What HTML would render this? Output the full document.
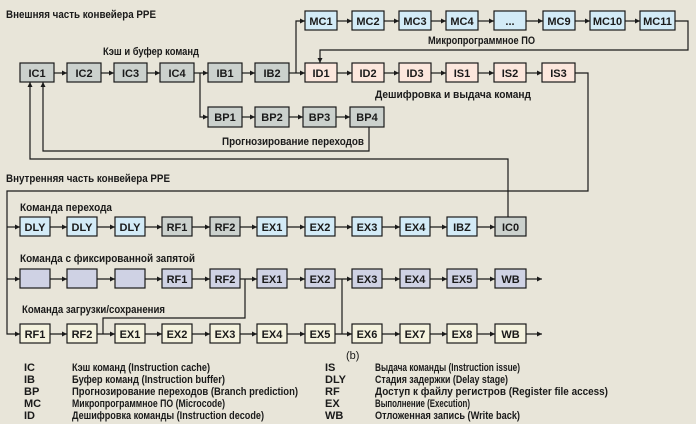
<!DOCTYPE html>
<html><head><meta charset="utf-8"><style>
html,body{margin:0;padding:0;background:#e8e5d9;}
svg{display:block;}
text{font-family:"Liberation Sans Narrow","Liberation Sans",sans-serif;fill:#1a1a1a;}
.b{font-weight:bold;font-size:11px;text-anchor:middle;}
.t{font-weight:bold;font-size:11px;}
.l{font-size:11px;font-weight:bold;}
rect{stroke:#1a1a1a;stroke-width:1.2;}
.ln{stroke:#1a1a1a;stroke-width:1.2;fill:none;}
.g{fill:#cbd1cd}.c{fill:#d3ebf7}.p{fill:#fce7dd}.v{fill:#cfd2e4}.y{fill:#f4f2de}
</style></head><body>
<svg width="696" height="424" viewBox="0 0 696 424" xmlns="http://www.w3.org/2000/svg">
<defs><marker id="a" markerWidth="6" markerHeight="6" refX="5" refY="3" orient="auto" markerUnits="userSpaceOnUse"><path d="M0,0.5 L5,3 L0,5.5 z" fill="#1a1a1a"/></marker></defs>

<text class="t" x="6" y="18" textLength="150" lengthAdjust="spacingAndGlyphs">Внешняя часть конвейера PPE</text>
<text class="t" x="103" y="55" textLength="96" lengthAdjust="spacingAndGlyphs">Кэш и буфер команд</text>
<text class="t" x="428" y="44" textLength="107" lengthAdjust="spacingAndGlyphs">Микропрограммное ПО</text>
<text class="t" x="375" y="98" textLength="156" lengthAdjust="spacingAndGlyphs">Дешифровка и выдача команд</text>
<text class="t" x="222" y="145" textLength="142" lengthAdjust="spacingAndGlyphs">Прогнозирование переходов</text>
<text class="t" x="6" y="182" textLength="164" lengthAdjust="spacingAndGlyphs">Внутренняя часть конвейера PPE</text>
<text class="t" x="20" y="211" textLength="92" lengthAdjust="spacingAndGlyphs">Команда перехода</text>
<text class="t" x="20" y="262" textLength="175" lengthAdjust="spacingAndGlyphs">Команда с фиксированной запятой</text>
<text class="t" x="22" y="313" textLength="143" lengthAdjust="spacingAndGlyphs">Команда загрузки/сохранения</text>
<text class="l" x="346" y="359" style="font-weight:normal">(b)</text>

<g class="ln">
<line x1="54" y1="73" x2="67" y2="73" marker-end="url(#a)"/>
<line x1="101" y1="73" x2="114" y2="73" marker-end="url(#a)"/>
<line x1="147" y1="73" x2="160" y2="73" marker-end="url(#a)"/>
<line x1="194" y1="73" x2="208" y2="73" marker-end="url(#a)"/>
<line x1="242" y1="73" x2="255" y2="73" marker-end="url(#a)"/>
<line x1="289" y1="73" x2="305" y2="73" marker-end="url(#a)"/>
<line x1="337" y1="73" x2="352" y2="73" marker-end="url(#a)"/>
<line x1="384" y1="73" x2="399" y2="73" marker-end="url(#a)"/>
<line x1="431" y1="73" x2="446" y2="73" marker-end="url(#a)"/>
<line x1="478" y1="73" x2="494" y2="73" marker-end="url(#a)"/>
<line x1="526" y1="73" x2="542" y2="73" marker-end="url(#a)"/>
<polyline points="200,73 200,117 208,117" marker-end="url(#a)"/>
<line x1="242" y1="117" x2="255" y2="117" marker-end="url(#a)"/>
<line x1="289" y1="117" x2="303" y2="117" marker-end="url(#a)"/>
<line x1="336" y1="117" x2="350" y2="117" marker-end="url(#a)"/>
<polyline points="296,73 296,21 305,21" marker-end="url(#a)"/>
<line x1="337" y1="21" x2="352" y2="21" marker-end="url(#a)"/>
<line x1="384" y1="21" x2="399" y2="21" marker-end="url(#a)"/>
<line x1="431" y1="21" x2="446" y2="21" marker-end="url(#a)"/>
<line x1="478" y1="21" x2="494" y2="21" marker-end="url(#a)"/>
<line x1="526" y1="21" x2="543" y2="21" marker-end="url(#a)"/>
<line x1="575" y1="21" x2="590" y2="21" marker-end="url(#a)"/>
<line x1="625" y1="21" x2="640" y2="21" marker-end="url(#a)"/>
<polyline points="675,21 688,21 688,50 320,50 320,63" marker-end="url(#a)"/>
<polyline points="575,73 588,73 588,191 7,191 7,334 20,334" marker-end="url(#a)"/>
<polyline points="7,227 20,227" marker-end="url(#a)"/>
<polyline points="7,279 20,279" marker-end="url(#a)"/>
<polyline points="369,127 369,151 43,151 43,82" marker-end="url(#a)"/>
<polyline points="508,217 508,159 30,159 30,82" marker-end="url(#a)"/>
<g id="r1">
<line x1="50" y1="227" x2="67" y2="227" marker-end="url(#a)"/>
<line x1="97" y1="227" x2="115" y2="227" marker-end="url(#a)"/>
<line x1="145" y1="227" x2="162" y2="227" marker-end="url(#a)"/>
<line x1="192" y1="227" x2="210" y2="227" marker-end="url(#a)"/>
<line x1="240" y1="227" x2="257" y2="227" marker-end="url(#a)"/>
<line x1="287" y1="227" x2="305" y2="227" marker-end="url(#a)"/>
<line x1="335" y1="227" x2="352" y2="227" marker-end="url(#a)"/>
<line x1="382" y1="227" x2="400" y2="227" marker-end="url(#a)"/>
<line x1="430" y1="227" x2="447" y2="227" marker-end="url(#a)"/>
<line x1="477" y1="227" x2="495" y2="227" marker-end="url(#a)"/>
</g>
<use href="#r1" y="52"/>
<use href="#r1" y="107"/>
<line x1="526" y1="279" x2="542" y2="279" marker-end="url(#a)"/>
<line x1="526" y1="334" x2="542" y2="334" marker-end="url(#a)"/>
<polyline points="245,279 245,318 103,318 103,334"/>
<line x1="342" y1="279" x2="342" y2="334"/>
</g>

<g>
<rect class="g" x="20" y="63" width="34" height="19"/><text class="b" x="37" y="77">IC1</text>
<rect class="g" x="67" y="63" width="34" height="19"/><text class="b" x="84" y="77">IC2</text>
<rect class="g" x="114" y="63" width="33" height="19"/><text class="b" x="130.5" y="77">IC3</text>
<rect class="g" x="160" y="63" width="34" height="19"/><text class="b" x="177" y="77">IC4</text>
<rect class="g" x="208" y="63" width="34" height="19"/><text class="b" x="225" y="77">IB1</text>
<rect class="g" x="255" y="63" width="34" height="19"/><text class="b" x="272" y="77">IB2</text>
<rect class="p" x="305" y="63" width="32" height="19"/><text class="b" x="321" y="77">ID1</text>
<rect class="p" x="352" y="63" width="32" height="19"/><text class="b" x="368" y="77">ID2</text>
<rect class="p" x="399" y="63" width="32" height="19"/><text class="b" x="415" y="77">ID3</text>
<rect class="p" x="446" y="63" width="32" height="19"/><text class="b" x="462" y="77">IS1</text>
<rect class="p" x="494" y="63" width="32" height="19"/><text class="b" x="510" y="77">IS2</text>
<rect class="p" x="542" y="63" width="33" height="19"/><text class="b" x="558.5" y="77">IS3</text>

<rect class="c" x="305" y="11" width="32" height="19"/><text class="b" x="321" y="25">MC1</text>
<rect class="c" x="352" y="11" width="32" height="19"/><text class="b" x="368" y="25">MC2</text>
<rect class="c" x="399" y="11" width="32" height="19"/><text class="b" x="415" y="25">MC3</text>
<rect class="c" x="446" y="11" width="32" height="19"/><text class="b" x="462" y="25">MC4</text>
<rect class="c" x="494" y="11" width="32" height="19"/><text class="b" x="510" y="25">...</text>
<rect class="c" x="543" y="11" width="32" height="19"/><text class="b" x="559" y="25">MC9</text>
<rect class="c" x="590" y="11" width="35" height="19"/><text class="b" x="607.5" y="25">MC10</text>
<rect class="c" x="640" y="11" width="35" height="19"/><text class="b" x="657.5" y="25">MC11</text>

<rect class="g" x="208" y="107" width="34" height="20"/><text class="b" x="225" y="121">BP1</text>
<rect class="g" x="255" y="107" width="34" height="20"/><text class="b" x="272" y="121">BP2</text>
<rect class="g" x="303" y="107" width="33" height="20"/><text class="b" x="319.5" y="121">BP3</text>
<rect class="g" x="350" y="107" width="34" height="20"/><text class="b" x="367" y="121">BP4</text>
</g>

<rect class="c" x="20" y="217" width="30" height="19"/><text class="b" x="35" y="231">DLY</text>
<rect class="c" x="67" y="217" width="30" height="19"/><text class="b" x="82" y="231">DLY</text>
<rect class="c" x="115" y="217" width="30" height="19"/><text class="b" x="130" y="231">DLY</text>
<rect class="g" x="162" y="217" width="30" height="19"/><text class="b" x="177" y="231">RF1</text>
<rect class="g" x="210" y="217" width="30" height="19"/><text class="b" x="225" y="231">RF2</text>
<rect class="c" x="257" y="217" width="30" height="19"/><text class="b" x="272" y="231">EX1</text>
<rect class="c" x="305" y="217" width="30" height="19"/><text class="b" x="320" y="231">EX2</text>
<rect class="c" x="352" y="217" width="30" height="19"/><text class="b" x="367" y="231">EX3</text>
<rect class="c" x="400" y="217" width="30" height="19"/><text class="b" x="415" y="231">EX4</text>
<rect class="c" x="447" y="217" width="30" height="19"/><text class="b" x="462" y="231">IBZ</text>
<rect class="g" x="495" y="217" width="31" height="19"/><text class="b" x="510.5" y="231">IC0</text>

<rect class="v" x="20" y="269" width="30" height="19"/>
<rect class="v" x="67" y="269" width="30" height="19"/>
<rect class="v" x="115" y="269" width="30" height="19"/>
<rect class="v" x="162" y="269" width="30" height="19"/><text class="b" x="177" y="283">RF1</text>
<rect class="v" x="210" y="269" width="30" height="19"/><text class="b" x="225" y="283">RF2</text>
<rect class="v" x="257" y="269" width="30" height="19"/><text class="b" x="272" y="283">EX1</text>
<rect class="v" x="305" y="269" width="30" height="19"/><text class="b" x="320" y="283">EX2</text>
<rect class="v" x="352" y="269" width="30" height="19"/><text class="b" x="367" y="283">EX3</text>
<rect class="v" x="400" y="269" width="30" height="19"/><text class="b" x="415" y="283">EX4</text>
<rect class="v" x="447" y="269" width="30" height="19"/><text class="b" x="462" y="283">EX5</text>
<rect class="v" x="495" y="269" width="31" height="19"/><text class="b" x="510.5" y="283">WB</text>

<rect class="y" x="20" y="324" width="30" height="19"/><text class="b" x="35" y="338">RF1</text>
<rect class="y" x="67" y="324" width="30" height="19"/><text class="b" x="82" y="338">RF2</text>
<rect class="y" x="115" y="324" width="30" height="19"/><text class="b" x="130" y="338">EX1</text>
<rect class="y" x="162" y="324" width="30" height="19"/><text class="b" x="177" y="338">EX2</text>
<rect class="y" x="210" y="324" width="30" height="19"/><text class="b" x="225" y="338">EX3</text>
<rect class="y" x="257" y="324" width="30" height="19"/><text class="b" x="272" y="338">EX4</text>
<rect class="y" x="305" y="324" width="30" height="19"/><text class="b" x="320" y="338">EX5</text>
<rect class="y" x="352" y="324" width="30" height="19"/><text class="b" x="367" y="338">EX6</text>
<rect class="y" x="400" y="324" width="30" height="19"/><text class="b" x="415" y="338">EX7</text>
<rect class="y" x="447" y="324" width="30" height="19"/><text class="b" x="462" y="338">EX8</text>
<rect class="y" x="495" y="324" width="31" height="19"/><text class="b" x="510.5" y="338">WB</text>

<g class="l">
<text x="24" y="371">IC</text><text x="72" y="371" textLength="138" lengthAdjust="spacingAndGlyphs">Кэш команд (Instruction cache)</text>
<text x="24" y="383">IB</text><text x="72" y="383" textLength="153" lengthAdjust="spacingAndGlyphs">Буфер команд (Instruction buffer)</text>
<text x="24" y="395">BP</text><text x="72" y="395" textLength="226" lengthAdjust="spacingAndGlyphs">Прогнозирование переходов (Branch prediction)</text>
<text x="24" y="407">MC</text><text x="72" y="407" textLength="153" lengthAdjust="spacingAndGlyphs">Микропрограммное ПО (Microcode)</text>
<text x="24" y="419">ID</text><text x="72" y="419" textLength="192" lengthAdjust="spacingAndGlyphs">Дешифровка команды (Instruction decode)</text>
<text x="325" y="371">IS</text><text x="375" y="371" textLength="145" lengthAdjust="spacingAndGlyphs">Выдача команды (Instruction issue)</text>
<text x="325" y="383">DLY</text><text x="375" y="383" textLength="133" lengthAdjust="spacingAndGlyphs">Стадия задержки (Delay stage)</text>
<text x="325" y="395">RF</text><text x="375" y="395" textLength="233" lengthAdjust="spacingAndGlyphs">Доступ к файлу регистров (Register file access)</text>
<text x="325" y="407">EX</text><text x="375" y="407" textLength="95" lengthAdjust="spacingAndGlyphs">Выполнение (Execution)</text>
<text x="325" y="419">WB</text><text x="375" y="419" textLength="145" lengthAdjust="spacingAndGlyphs">Отложенная запись (Write back)</text>
</g>
</svg>
</body></html>
